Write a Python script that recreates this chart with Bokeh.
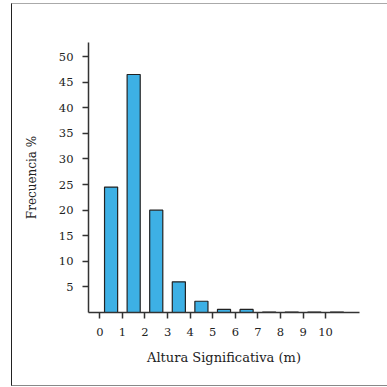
from bokeh.plotting import figure
from bokeh.models import Range1d, FixedTicker
from bokeh.embed import file_html
from bokeh.resources import INLINE

# Data
bin_centers = [0.5, 1.5, 2.5, 3.5, 4.5, 5.5, 6.5, 7.5, 8.5, 9.5, 10.5]
frequency = [24.5, 46.5, 20.0, 6.0, 2.2, 0.6, 0.6, 0.1, 0.1, 0.1, 0.1]
x_ticks = [0, 1, 2, 3, 4, 5, 6, 7, 8, 9, 10]
y_ticks = [5, 10, 15, 20, 25, 30, 35, 40, 45, 50]

FONT = "DejaVu Serif"

p = figure(width=376, height=383, output_backend="svg", toolbar_location=None,
           x_range=Range1d(-0.5, 11.5), y_range=Range1d(0, 52.75),
           min_border_left=76, min_border_right=29, min_border_top=38, min_border_bottom=75,
           margin=(3, 0, 0, 11),
           styles={"border-left": "1.5px solid #222", "border-top": "1px solid #aaa",
                   "border-bottom": "1px solid #888", "border-right": "none",
                   "box-sizing": "border-box"})

p.vbar(x=bin_centers, top=frequency, width=0.58, bottom=0,
       fill_color="#3db0e5", line_color="#222222", line_width=1.2)

p.outline_line_color = None
p.grid.visible = False

p.xaxis.ticker = FixedTicker(ticks=x_ticks)
p.yaxis.ticker = FixedTicker(ticks=y_ticks)
for ax in (p.xaxis, p.yaxis):
    ax.minor_tick_line_color = None
    ax.major_tick_in = 0
    ax.major_tick_out = 6
    ax.axis_line_color = "#333333"
    ax.axis_line_width = 1.5
    ax.major_tick_line_color = "#333333"
    ax.major_tick_line_width = 1.5
    ax.major_label_text_font = FONT
    ax.major_label_text_font_size = "11.5px"
    ax.major_label_text_color = "#222222"
    ax.axis_label_text_font = FONT
    ax.axis_label_text_font_style = "normal"
    ax.axis_label_text_color = "#222222"

p.xaxis.axis_label_text_font_size = "13px"
p.yaxis.axis_label_text_font_size = "12px"
p.xaxis.axis_label = "Altura Significativa (m)"
p.yaxis.axis_label = "Frecuencia %"
p.xaxis.major_label_standoff = 9
p.xaxis.axis_label_standoff = 11
p.yaxis.major_label_standoff = 9
p.yaxis.axis_label_standoff = 17

open("out.html", "w").write(file_html(p, INLINE))
